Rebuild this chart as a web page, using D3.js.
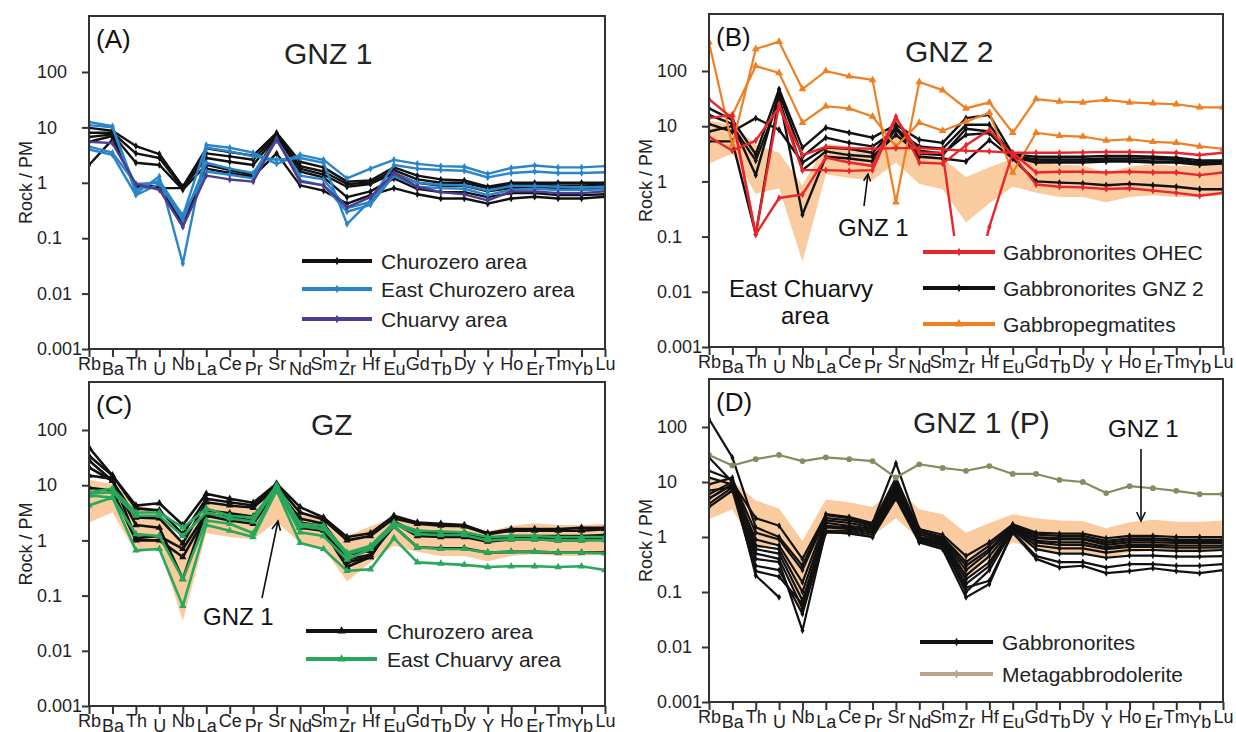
<!DOCTYPE html>
<html><head><meta charset="utf-8">
<script src="https://cdn.jsdelivr.net/npm/d3@7"></script>
<style>
html,body{margin:0;padding:0;background:#fff;}
svg{display:block;font-family:"Liberation Sans",Arial,Helvetica,sans-serif;}
</style></head>
<body>
<svg id="chart" width="1236" height="732"></svg>
<script>
// ---------- DATA ----------
const elements = ["Rb","Ba","Th","U","Nb","La","Ce","Pr","Sr","Nd","Sm","Zr","Hf","Eu","Gd","Tb","Dy","Y","Ho","Er","Tm","Yb","Lu"];
const yTickValues = [100, 10, 1, 0.1, 0.01, 0.001];
const yTickLabels = ["100", "10", "1", "0.1", "0.01", "0.001"];

// Panel A (GNZ 1)
const aChurozero = [
  [9.8, 8.7, 4.6, 3.3, 0.85, 4.2, 3.6, 3.1, 8.0, 2.4, 1.9, 1.05, 1.1, 1.9, 1.35, 1.15, 1.1, 0.85, 1.0, 1.0, 1.0, 1.0, 1.0],
  [8.0, 8.0, 3.4, 2.8, 0.8, 3.4, 3.0, 2.6, 7.5, 2.0, 1.6, 0.95, 1.0, 1.7, 1.15, 1.0, 1.0, 0.8, 0.92, 0.92, 0.9, 0.9, 0.92],
  [6.7, 7.5, 2.3, 2.1, 0.75, 2.1, 1.7, 1.4, 6.8, 1.8, 1.4, 0.85, 0.95, 1.5, 1.0, 0.88, 0.88, 0.7, 0.8, 0.82, 0.8, 0.8, 0.82],
  [2.1, 6.0, 0.9, 0.85, 0.18, 1.8, 1.5, 1.3, 3.4, 0.9, 0.72, 0.42, 0.6, 0.8, 0.62, 0.52, 0.52, 0.42, 0.52, 0.56, 0.52, 0.52, 0.56],
  [5.5, 7.0, 0.85, 0.8, 0.8, 2.8, 2.4, 2.1, 7.0, 1.6, 1.25, 0.55, 0.7, 1.2, 0.78, 0.68, 0.68, 0.55, 0.65, 0.65, 0.6, 0.6, 0.62]
];
const aEastChurozero = [
  [12.5, 10.5, 0.75, 1.1, 0.25, 4.8, 4.3, 3.5, 2.2, 3.2, 2.6, 1.2, 1.8, 2.6, 2.2, 2.0, 1.95, 1.45, 1.85, 2.05, 1.9, 1.9, 2.0],
  [11, 10, 0.65, 1.3, 0.035, 4.3, 3.7, 3.0, 2.6, 2.8, 2.3, 0.18, 0.48, 2.1, 1.8, 1.7, 1.65, 1.25, 1.5, 1.6, 1.5, 1.5, 1.55],
  [4.5, 3.5, 0.95, 1.0, 0.21, 2.3, 1.8, 1.5, 5.8, 1.35, 1.15, 0.35, 0.45, 1.45, 1.0, 0.92, 0.9, 0.72, 0.88, 0.88, 0.85, 0.82, 0.85],
  [4.0, 3.2, 0.6, 0.95, 0.26, 1.6, 1.4, 1.2, 6.2, 1.1, 0.9, 0.3, 0.4, 1.35, 0.85, 0.8, 0.78, 0.6, 0.75, 0.78, 0.74, 0.74, 0.76]
];
const aChuarvy = [
  [5.5, 5.2, 0.95, 0.75, 0.16, 1.35, 1.15, 1.05, 6.2, 1.05, 0.9, 0.36, 0.55, 1.5, 0.85, 0.68, 0.62, 0.48, 0.7, 0.7, 0.65, 0.65, 0.7]
];

// Panel B (GNZ 2)
const bGNZ2 = [
  [21, 13, 3.1, 47, 4.1, 9.4, 7.6, 6.2, 10.6, 5.7, 5.0, 14, 16, 3.1, 2.8, 2.8, 2.8, 2.9, 2.9, 2.8, 2.7, 2.4, 2.4],
  [16, 11, 1.3, 40, 2.8, 6.2, 5.0, 4.3, 8.6, 4.3, 3.9, 10.6, 10.6, 2.9, 2.5, 2.5, 2.5, 2.6, 2.6, 2.6, 2.5, 2.2, 2.3],
  [11, 8, 14, 8.6, 2.2, 4.1, 3.9, 3.3, 9.5, 3.6, 3.2, 7.0, 7.5, 2.8, 2.2, 2.2, 2.2, 2.3, 2.3, 2.2, 2.2, 2.0, 2.1],
  [5.3, 5.3, 0.11, 35, 0.25, 2.8, 2.6, 2.3, 9.0, 2.8, 2.6, 2.3, 5.6, 2.6, 1.0, 0.95, 0.92, 0.85, 0.9, 0.85, 0.8, 0.72, 0.72],
  [8, 10, 2.4, 30, 1.6, 3.5, 3.0, 2.8, 7.0, 3.2, 3.0, 9.0, 8.0, 2.7, 2.4, 2.3, 2.3, 2.4, 2.4, 2.3, 2.3, 2.1, 2.2]
];
const bOHEC = [
  [31, 14, 0.11, 25, 1.6, 1.6, 1.55, 1.6, 14, 3.3, 3.3, 0.003, 0.15, 3.3, 1.45, 1.5, 1.5, 1.45, 1.5, 1.45, 1.45, 1.3, 1.45],
  [6.5, 3.6, 5.5, 22, 3.0, 4.2, 4.0, 3.9, 4.0, 4.0, 3.8, 3.6, 3.5, 3.3, 3.3, 3.3, 3.35, 3.4, 3.4, 3.35, 3.3, 3.0, 3.3],
  [14, 16, 0.11, 0.5, 0.58, 2.7, 2.2, 1.9, 15, 2.2, 2.1, 4.5, 8.5, 3.0, 0.88, 0.8, 0.78, 0.73, 0.75, 0.68, 0.62, 0.55, 0.62]
];
const bPegmatites = [
  [330, 4.5, 250, 340, 47, 100, 80, 69, 0.42, 63, 45, 21, 27, 7.6, 31, 28, 27, 30, 27, 26, 25, 22, 22],
  [null, 16, 123, 92, 11.6, 23, 21, 15, 4.3, 11.6, 8.3, 12, 17.5, 1.45, 7.6, 6.7, 6.5, 5.5, 5.8, 5.2, 5.0, 4.3, 3.9]
];

// Panel C (GZ)
const cChurozero = [
  [48, 15, 4.3, 4.7, 1.9, 7.0, 5.7, 4.8, 10.7, 4.0, 2.6, 1.15, 1.35, 2.8, 2.1, 2.0, 1.9, 1.35, 1.6, 1.6, 1.6, 1.7, 1.7],
  [34, 15, 3.8, 3.5, 1.3, 5.7, 4.9, 4.3, 10.0, 3.2, 2.4, 1.0, 1.2, 2.5, 2.0, 1.85, 1.8, 1.3, 1.5, 1.5, 1.5, 1.5, 1.6],
  [28, 12, 2.6, 2.5, 0.88, 4.9, 4.3, 3.9, 9.1, 2.1, 1.8, 0.4, 0.5, 2.2, 1.35, 1.3, 1.3, 1.0, 1.1, 1.1, 1.1, 1.1, 1.2],
  [21, 12, 1.9, 1.7, 0.2, 3.5, 3.1, 2.7, 9.0, 1.7, 1.5, 0.33, 0.5, 2.1, 1.2, 1.15, 1.15, 0.95, 1.05, 1.05, 1.0, 1.0, 1.1],
  [15, 13, 1.1, 1.2, 0.7, 3.1, 2.6, 2.3, 8.5, 2.5, 2.0, 0.55, 0.65, 2.0, 1.5, 1.4, 1.4, 1.1, 1.2, 1.2, 1.2, 1.2, 1.25],
  [9, 8, 1.0, 1.0, 0.5, 2.8, 2.3, 2.0, 8.0, 1.8, 1.6, 0.45, 0.55, 1.8, 0.75, 0.72, 0.72, 0.6, 0.62, 0.62, 0.6, 0.6, 0.6]
];
const cEastChuarvy = [
  [7.4, 8.7, 3.2, 3.2, 1.7, 3.8, 2.8, 2.6, 10, 2.0, 1.85, 0.6, 0.8, 2.1, 1.5, 1.45, 1.4, 1.15, 1.2, 1.2, 1.15, 1.15, 1.15],
  [6.5, 6.0, 1.3, 1.2, 0.2, 2.3, 2.0, 1.35, 9, 1.4, 1.2, 0.45, 0.7, 1.8, 0.75, 0.7, 0.7, 0.6, 0.62, 0.62, 0.6, 0.6, 0.58],
  [4.3, 6.0, 0.66, 0.7, 0.065, 1.9, 1.5, 1.15, 8, 0.9, 0.7, 0.28, 0.3, 1.1, 0.4, 0.38, 0.36, 0.33, 0.34, 0.34, 0.33, 0.34, 0.29],
  [7.0, 7.5, 2.8, 2.8, 1.2, 3.2, 2.5, 2.2, 9.5, 1.8, 1.6, 0.55, 0.75, 2.0, 1.3, 1.25, 1.25, 1.0, 1.05, 1.05, 1.0, 1.0, 1.0]
];

// Panel D (GNZ 1 (P))
const dGabbronorites = [
  [140, 28, 1.5, 1.0, 0.3, 2.6, 2.3, 1.8, 22, 1.4, 1.1, 0.45, 0.8, 1.7, 1.2, 1.15, 1.15, 0.95, 1.05, 1.05, 1.0, 1.0, 1.0],
  [28, 10, 2.2, 1.6, 0.4, 2.5, 2.2, 1.7, 12, 1.3, 1.0, 0.35, 0.7, 1.65, 1.1, 1.05, 1.05, 0.85, 0.95, 0.95, 0.9, 0.9, 0.9],
  [16, 11, 1.2, 0.9, 0.25, 2.2, 2.0, 1.6, 10, 1.2, 0.95, 0.3, 0.6, 1.6, 1.0, 0.95, 0.95, 0.78, 0.88, 0.88, 0.85, 0.85, 0.85],
  [12, 9, 0.9, 0.7, 0.15, 2.0, 1.8, 1.5, 9, 1.1, 0.9, 0.25, 0.55, 1.55, 0.95, 0.9, 0.9, 0.72, 0.8, 0.8, 0.78, 0.78, 0.78],
  [9, 12, 0.7, 0.6, 0.1, 1.8, 1.6, 1.4, 8, 1.0, 0.85, 0.2, 0.45, 1.5, 0.85, 0.8, 0.8, 0.65, 0.72, 0.72, 0.7, 0.7, 0.7],
  [7, 8, 0.6, 0.5, 0.07, 1.6, 1.5, 1.3, 7, 0.95, 0.8, 0.17, 0.35, 1.45, 0.8, 0.72, 0.72, 0.6, 0.66, 0.66, 0.64, 0.64, 0.65],
  [6, 10, 0.5, 0.4, 0.05, 1.5, 1.4, 1.2, 6, 0.9, 0.75, 0.14, 0.3, 1.4, 0.7, 0.62, 0.62, 0.52, 0.58, 0.58, 0.56, 0.56, 0.58],
  [5, 9, 0.4, 0.35, 0.02, 1.3, 1.3, 1.1, 5.5, 0.85, 0.7, 0.1, 0.25, 1.35, 0.6, 0.5, 0.5, 0.42, 0.46, 0.46, 0.44, 0.44, 0.45],
  [4, 8, 0.3, 0.25, 0.04, 1.2, 1.2, 1.0, 5, 0.8, 0.6, 0.08, 0.14, 1.25, 0.45, 0.35, 0.35, 0.28, 0.32, 0.32, 0.3, 0.3, 0.32],
  [3.5, 7, 0.24, 0.19, 0.06, 1.25, 1.15, 1.0, 7, 0.8, 0.65, 0.12, 0.16, 1.2, 0.4, 0.28, 0.3, 0.22, 0.24, 0.27, 0.24, 0.22, 0.25],
  [5, 9, 0.2, 0.08, null, null, null, null, null, null, null, null, null, null, null, null, null, null, null, null, null, null, null]
];
const dMetagabbro = [
  [31, 20, 26, 31, 24, 28, 26, 24, 12, 21, 18, 16, 19.5, 14, 14, 10.9, 10, 6.3, 8.4, 7.7, 6.9, 6.0, 6.0]
];

// ---------- STYLE ----------
const C = {
  black: "#111111", blue: "#2a84c8", purple: "#4f3b8f", red: "#e8262b",
  orange: "#ef7f22", green: "#27a85a", olive: "#8b8960", tan: "#b8a58a",
  band: "#f9cb9e", frame: "#333333", text: "#222222"
};

// GNZ 1 field = envelope of panel A data
const gnz1All = [...aChurozero, ...aEastChurozero, ...aChuarvy];
const gnz1Band = elements.map((e, i) => {
  const v = gnz1All.map(s => s[i]).filter(d => d != null);
  return { lo: d3.min(v), hi: d3.max(v) };
});

const svg = d3.select("#chart");
const FONT = '"Liberation Sans", Arial, Helvetica, sans-serif';

function drawPanel(cfg) {
  const x = d3.scalePoint().domain(elements).range([cfg.left, cfg.right]);
  const y = d3.scaleLog().domain([0.001, 100]).range([cfg.bottom, cfg.y100]);
  const g = svg.append("g");
  const clipId = "clip" + cfg.id;
  svg.append("clipPath").attr("id", clipId).append("rect")
    .attr("x", cfg.left).attr("y", cfg.top)
    .attr("width", cfg.right - cfg.left).attr("height", cfg.bottom - cfg.top);
  const plot = g.append("g").attr("clip-path", `url(#${clipId})`);

  if (cfg.band) {
    const area = d3.area().x((d, i) => x(elements[i])).y0(d => y(d.lo)).y1(d => y(d.hi));
    plot.append("path").attr("d", area(gnz1Band)).attr("fill", C.band);
  }

  cfg.series.forEach(s => {
    const line = d3.line().defined(v => v != null).x((v, i) => x(elements[i])).y(v => y(v));
    s.data.forEach(row => {
      plot.append("path").attr("d", line(row)).attr("fill", "none")
        .attr("stroke", s.color).attr("stroke-width", s.width)
        .attr("stroke-linejoin", "round");
      const sym = d3.symbol().type(s.symbol).size(s.size);
      row.forEach((v, i) => {
        if (v == null) return;
        plot.append("path").attr("d", sym())
          .attr("transform", `translate(${x(elements[i])},${y(v)})`)
          .attr("fill", s.color);
      });
    });
  });

  if (cfg.cover) {
    g.append("rect").attr("x", cfg.cover[0]).attr("y", cfg.cover[1])
      .attr("width", cfg.cover[2]).attr("height", cfg.cover[3]).attr("fill", "#fff");
  }

  // frame
  g.append("rect").attr("x", cfg.left).attr("y", cfg.top)
    .attr("width", cfg.right - cfg.left).attr("height", cfg.bottom - cfg.top)
    .attr("fill", "none").attr("stroke", C.frame).attr("stroke-width", 2);

  // y axis
  const ya = d3.axisLeft(y).tickValues(yTickValues).tickSize(7)
    .tickFormat((d, i) => yTickLabels[i]);
  const yg = g.append("g").attr("transform", `translate(${cfg.left},0)`).call(ya);
  yg.attr("font-family", FONT).attr("font-size", 18);
  yg.select(".domain").remove();
  yg.selectAll(".tick line").attr("stroke", C.frame).attr("stroke-width", 2);
  yg.selectAll(".tick text").attr("text-anchor", "start")
    .attr("x", cfg.labelX - cfg.left).attr("fill", C.text);

  // x axis
  const xa = d3.axisBottom(x).tickSize(8);
  const xg = g.append("g").attr("transform", `translate(0,${cfg.bottom})`).call(xa);
  xg.attr("font-family", FONT).attr("font-size", 18);
  xg.select(".domain").remove();
  xg.selectAll(".tick line").attr("stroke", C.frame).attr("stroke-width", 2);
  xg.selectAll(".tick text").attr("dy", 0)
    .attr("y", (d, i) => (i % 2 === 0 ? 21 : 26)).attr("fill", C.text);

  // y label
  g.append("text")
    .attr("transform", `translate(${cfg.labelX - 5},${(cfg.top + cfg.bottom) / 2}) rotate(-90)`)
    .attr("text-anchor", "middle").attr("font-size", 18).attr("fill", C.text)
    .text("Rock / PM");

  // panel letter & title
  g.append("text").attr("x", cfg.left + 7).attr("y", cfg.top + 32)
    .attr("font-size", 26).attr("fill", "#111").text(cfg.letter);
  g.append("text").attr("x", cfg.titleX).attr("y", cfg.titleY)
    .attr("font-size", 30).attr("fill", C.text).text(cfg.title);

  // legend
  const lg = cfg.legend;
  lg.items.forEach((it, k) => {
    const ly = lg.ys[k];
    g.append("line").attr("x1", lg.x1).attr("x2", lg.x2).attr("y1", ly).attr("y2", ly)
      .attr("stroke", it.color).attr("stroke-width", 4);
    g.append("path").attr("d", d3.symbol().type(it.symbol).size(it.size)())
      .attr("transform", `translate(${(lg.x1 + lg.x2) / 2},${ly})`).attr("fill", it.color);
    g.append("text").attr("x", lg.textX).attr("y", ly + 8)
      .attr("font-size", 21).attr("fill", C.text).text(it.label);
  });

  return { x, y, g };
}

function arrow(g, x1, y1, x2, y2, head) {
  g.append("line").attr("x1", x1).attr("y1", y1).attr("x2", x2).attr("y2", y2)
    .attr("stroke", "#111").attr("stroke-width", 1.6);
  const a = Math.atan2(y2 - y1, x2 - x1);
  const h = head, w = 0.45;
  const p = [
    [x2 - h * Math.cos(a - w), y2 - h * Math.sin(a - w)],
    [x2, y2],
    [x2 - h * Math.cos(a + w), y2 - h * Math.sin(a + w)]
  ];
  g.append("path").attr("d", d3.line()(p)).attr("fill", "none")
    .attr("stroke", "#111").attr("stroke-width", 1.6);
}

// ---------- PANELS ----------
const A = drawPanel({
  id: "A", left: 89, right: 605, top: 16, bottom: 349, y100: 72, labelX: 37,
  letter: "(A)", title: "GNZ 1", titleX: 284, titleY: 64,
  series: [
    { data: aChurozero, color: C.black, width: 2.4, symbol: d3.symbolDiamond, size: 16 },
    { data: aEastChurozero, color: C.blue, width: 2.4, symbol: d3.symbolDiamond, size: 16 },
    { data: aChuarvy, color: C.purple, width: 2.4, symbol: d3.symbolDiamond, size: 16 }
  ],
  legend: { x1: 302, x2: 372, textX: 381, ys: [261, 289, 319], items: [
    { label: "Churozero area", color: C.black, symbol: d3.symbolDiamond, size: 20 },
    { label: "East Churozero area", color: C.blue, symbol: d3.symbolDiamond, size: 20 },
    { label: "Chuarvy area", color: C.purple, symbol: d3.symbolDiamond, size: 20 }
  ]}
});

const B = drawPanel({
  id: "B", left: 709, right: 1223, top: 14, bottom: 347, y100: 71, labelX: 657,
  letter: "(B)", title: "GNZ 2", titleX: 905, titleY: 62, band: true,
  cover: [915, 236, 303, 104],
  series: [
    { data: bGNZ2, color: C.black, width: 2.4, symbol: d3.symbolDiamond, size: 16 },
    { data: bPegmatites, color: C.orange, width: 2.2, symbol: d3.symbolTriangle, size: 26 },
    { data: bOHEC, color: C.red, width: 2.4, symbol: d3.symbolDiamond, size: 16 }
  ],
  legend: { x1: 923, x2: 995, textX: 1003, ys: [252, 288, 324], items: [
    { label: "Gabbronorites OHEC", color: C.red, symbol: d3.symbolDiamond, size: 20 },
    { label: "Gabbronorites GNZ 2", color: C.black, symbol: d3.symbolDiamond, size: 20 },
    { label: "Gabbropegmatites", color: C.orange, symbol: d3.symbolTriangle, size: 34 }
  ]}
});
B.g.append("text").attr("x", 838).attr("y", 236).attr("font-size", 24).attr("fill", "#111").text("GNZ 1");
arrow(B.g, 864, 206, 868, 174, 8);
B.g.append("text").attr("x", 729).attr("y", 297).attr("font-size", 24).attr("fill", "#111").text("East Chuarvy");
B.g.append("text").attr("x", 805).attr("y", 324).attr("text-anchor", "middle").attr("font-size", 24).attr("fill", "#111").text("area");

const Cp = drawPanel({
  id: "C", left: 89, right: 605, top: 382, bottom: 706, y100: 430, labelX: 37,
  letter: "(C)", title: "GZ", titleX: 311, titleY: 435, band: true,
  series: [
    { data: cChurozero, color: C.black, width: 2.6, symbol: d3.symbolTriangle, size: 24 },
    { data: cEastChuarvy, color: C.green, width: 2.6, symbol: d3.symbolTriangle, size: 24 }
  ],
  legend: { x1: 306, x2: 377, textX: 387, ys: [631, 659], items: [
    { label: "Churozero area", color: C.black, symbol: d3.symbolTriangle, size: 30 },
    { label: "East Chuarvy area", color: C.green, symbol: d3.symbolTriangle, size: 30 }
  ]}
});
Cp.g.append("text").attr("x", 203).attr("y", 625).attr("font-size", 24).attr("fill", "#111").text("GNZ 1");
arrow(Cp.g, 262, 598, 278, 521, 10);

const D = drawPanel({
  id: "D", left: 709, right: 1223, top: 379, bottom: 702, y100: 427, labelX: 657,
  letter: "(D)", title: "GNZ 1 (P)", titleX: 913, titleY: 433, band: true,
  series: [
    { data: dGabbronorites, color: C.black, width: 2.2, symbol: d3.symbolDiamond, size: 14 },
    { data: dMetagabbro, color: C.olive, width: 2.2, symbol: d3.symbolCircle, size: 26 }
  ],
  legend: { x1: 920, x2: 993, textX: 1002, ys: [642, 674], items: [
    { label: "Gabbronorites", color: C.black, symbol: d3.symbolDiamond, size: 20 },
    { label: "Metagabbrodolerite", color: C.tan, symbol: d3.symbolDiamond, size: 24 }
  ]}
});
D.g.append("text").attr("x", 1108).attr("y", 437).attr("font-size", 24).attr("fill", "#111").text("GNZ 1");
arrow(D.g, 1141, 449, 1141, 521, 10);
</script>
</body></html>
